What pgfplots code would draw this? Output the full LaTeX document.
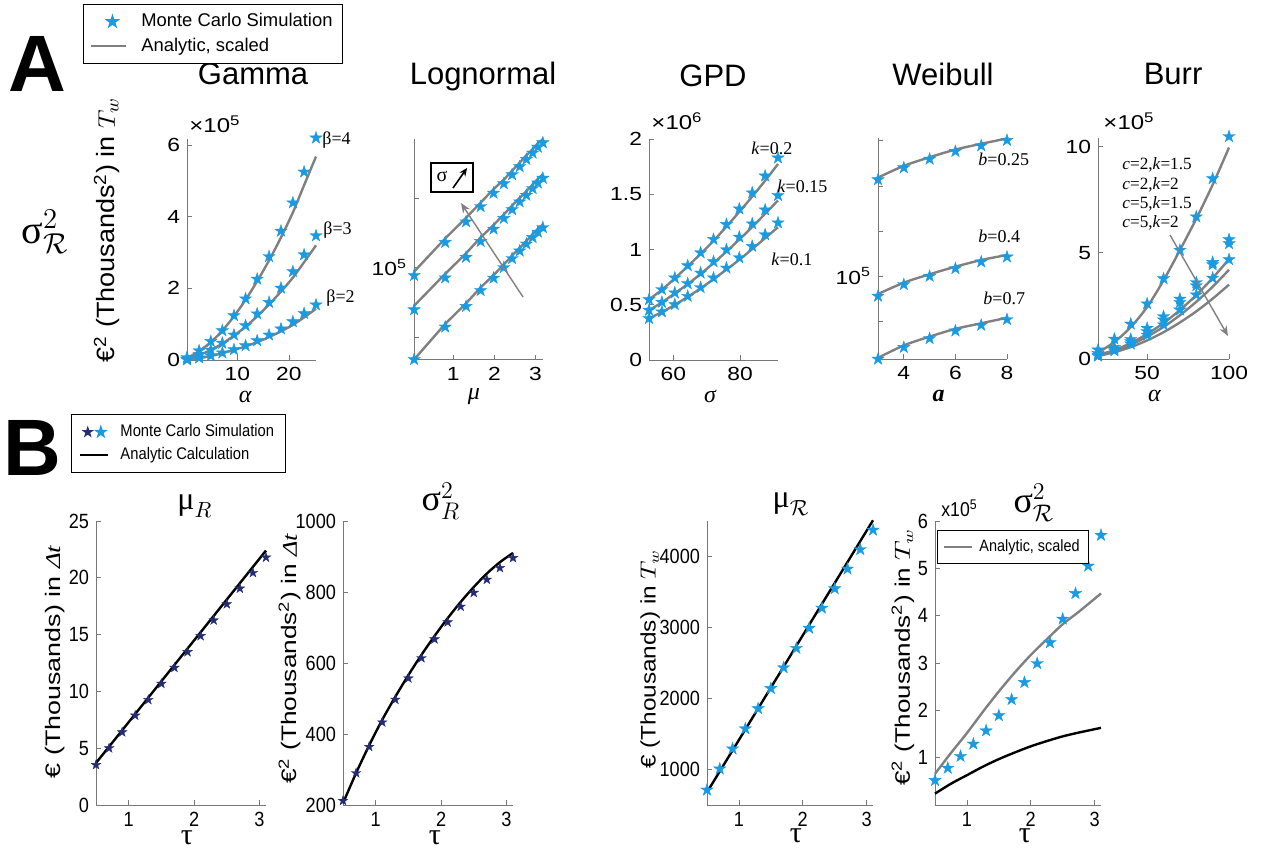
\documentclass[border=0pt]{standalone}
\usepackage{fontspec}
\setmainfont{Liberation Sans}
\newfontfamily\serif{Liberation Serif}
\newfontfamily\narrow[FakeStretch=0.88]{Liberation Sans}
\newfontfamily\wide[FakeStretch=1.2]{Liberation Sans}
\usepackage{graphicx}
\usepackage{pgfplots}
\usepackage{pgfplotstable}
\pgfplotsset{compat=1.18}
\usetikzlibrary{arrows.meta}
\definecolor{lblue}{RGB}{26,155,225}
\definecolor{navy}{RGB}{35,45,115}
\definecolor{lgray}{RGB}{128,128,128}
\definecolor{axgray}{RGB}{120,120,120}

\pgfdeclareplotmark{pstar}{%
 \pgfpathmoveto{\pgfpointpolar{90}{\pgfplotmarksize}}%
 \pgfpathlineto{\pgfpointpolar{126}{0.382\pgfplotmarksize}}%
 \pgfpathlineto{\pgfpointpolar{162}{\pgfplotmarksize}}%
 \pgfpathlineto{\pgfpointpolar{198}{0.382\pgfplotmarksize}}%
 \pgfpathlineto{\pgfpointpolar{234}{\pgfplotmarksize}}%
 \pgfpathlineto{\pgfpointpolar{270}{0.382\pgfplotmarksize}}%
 \pgfpathlineto{\pgfpointpolar{306}{\pgfplotmarksize}}%
 \pgfpathlineto{\pgfpointpolar{342}{0.382\pgfplotmarksize}}%
 \pgfpathlineto{\pgfpointpolar{18}{\pgfplotmarksize}}%
 \pgfpathlineto{\pgfpointpolar{54}{0.382\pgfplotmarksize}}%
 \pgfpathclose
 \pgfusepathqfillstroke}

\pgfplotsset{
 myb/.style={scale only axis, axis lines=left, axis line style={-, draw=axgray, line width=0.5pt},
   tick align=inside, tick style={draw=axgray, line width=0.4pt}, major tick length=2.5pt,
   enlargelimits=false, clip=false, /pgf/number format/assume math mode=true,
   /pgf/number format/1000 sep={}, scaled ticks=false, minor tick num=0,
   title style={anchor=center}, xlabel style={anchor=center}, ylabel style={anchor=center}},
 topax/.style={myb, width=64.5pt, height=110.5pt,
   tick label style={font=\wide\fontsize{9.5}{11}\selectfont},
   title style={font=\fontsize{15.5}{17}\selectfont},
   xlabel style={font=\fontsize{12}{14}\selectfont}},
 botax/.style={myb, height=142pt, xmin=0.5, xmax=3.1, xtick={1,2,3},
   tick label style={font=\narrow\fontsize{10.3}{12}\selectfont},
   xlabel style={font=\serif\fontsize{15}{16}\selectfont},
   ylabel style={font=\fontsize{10.5}{12}\selectfont}},
 mc/.style={only marks, mark=pstar, mark size=3.2pt, mark options={fill=lblue, draw=lblue, line width=0.2pt}},
 mcn/.style={only marks, mark=pstar, mark size=2.5pt, mark options={fill=navy, draw=navy, line width=0.2pt}},
 an/.style={no marks, draw=lgray, line width=1.2pt},
 anb/.style={no marks, draw=black, line width=1.2pt},
 shortleg/.style={legend image code/.code={\draw[##1] (0cm,0cm) -- (0.5cm,0cm);}},
 longleg/.style={legend image code/.code={\draw[##1] (0cm,0cm) -- (0.62cm,0cm);}},
 starleg/.style={legend image code/.code={%
  \path[draw=none, fill=none] (0cm,0cm) -- (0.62cm,0cm);
  \path[draw=none, fill=none] plot[only marks, mark=pstar, mark size=3.1pt, mark options={fill=lblue,draw=lblue}] coordinates {(0.38cm,0cm)};}},
 twostar/.style={legend image code/.code={%
  \path[draw=none, fill=none] (0cm,0cm) -- (0.5cm,0cm);
  \path[draw=none, fill=none] plot[only marks, mark=pstar, mark size=2.3pt, mark options={fill=navy,draw=navy}] coordinates {(0.14cm,0cm)};
  \path[draw=none, fill=none] plot[only marks, mark=pstar, mark size=2.8pt, mark options={fill=lblue,draw=lblue}] coordinates {(0.37cm,0cm)};}},
}

\pgfplotstableread{
x s4 l4 s3 l3 s2 l2
0.25 0.07e5 0.05e5 0.03e5 0.03e5 0.005e5 0.005e5
2.6 0.26e5 0.25e5 0.15e5 0.14e5 0.06e5 0.05e5
4.87 0.52e5 0.50e5 0.28e5 0.28e5 0.12e5 0.11e5
7.1 0.82e5 0.82e5 0.47e5 0.46e5 0.20e5 0.19e5
9.35 1.24e5 1.22e5 0.70e5 0.68e5 0.29e5 0.28e5
11.6 1.71e5 1.68e5 0.96e5 0.93e5 0.40e5 0.38e5
13.85 2.26e5 2.20e5 1.29e5 1.22e5 0.54e5 0.50e5
16.15 2.89e5 2.78e5 1.61e5 1.55e5 0.70e5 0.64e5
18.46 3.60e5 3.42e5 2.01e5 1.91e5 0.87e5 0.80e5
20.77 4.39e5 4.12e5 2.47e5 2.30e5 1.07e5 0.98e5
22.94 5.25e5 4.88e5 2.94e5 2.73e5 1.30e5 1.19e5
25.25 6.20e5 5.68e5 3.47e5 3.20e5 1.54e5 1.43e5
}\tgam

\pgfplotstableread{
x t lt m lm b lb
0.053 9.24e4 9.6e4 6.57e4 6.83e4 4.0e4 4.0e4
0.807 1.285e5 1.336e5 9.03e4 9.39e4 5.53e4 5.7e4
1.313 1.578e5 1.641e5 1.108e5 1.152e5 6.79e4 7.0e4
1.667 1.837e5 1.91e5 1.298e5 1.35e5 7.96e4 8.2e4
1.98 2.099e5 2.183e5 1.468e5 1.527e5 9.0e4 9.27e4
2.229 2.307e5 2.4e5 1.632e5 1.697e5 1.0e5 1.03e5
2.43 2.523e5 2.624e5 1.782e5 1.853e5 1.094e5 1.127e5
2.614 2.733e5 2.842e5 1.925e5 2.002e5 1.18e5 1.215e5
2.776 2.94e5 3.058e5 2.056e5 2.138e5 1.265e5 1.303e5
2.928 3.13e5 3.255e5 2.198e5 2.286e5 1.35e5 1.39e5
3.055 3.32e5 3.453e5 2.325e5 2.418e5 1.425e5 1.468e5
3.176 3.47e5 3.59e5 2.436e5 2.533e5 1.49e5 1.535e5
}\tlog

\pgfplotstableread{
x s2 l2 s15 l15 s1 l1
52.7 0.547e6 0.547e6 0.451e6 0.451e6 0.376e6 0.376e6
56.57 0.638e6 0.636e6 0.523e6 0.521e6 0.436e6 0.434e6
60.44 0.743e6 0.739e6 0.608e6 0.604e6 0.502e6 0.499e6
64.31 0.854e6 0.848e6 0.692e6 0.686e6 0.577e6 0.572e6
68.18 0.971e6 0.961e6 0.788e6 0.779e6 0.656e6 0.648e6
72.05 1.092e6 1.078e6 0.89e6 0.877e6 0.743e6 0.732e6
75.92 1.227e6 1.207e6 0.998e6 0.981e6 0.833e6 0.818e6
79.79 1.368e6 1.341e6 1.113e6 1.09e6 0.926e6 0.907e6
83.66 1.513e6 1.479e6 1.233e6 1.204e6 1.029e6 1.004e6
87.53 1.666e6 1.623e6 1.359e6 1.323e6 1.134e6 1.103e6
91.4 1.829e6 1.774e6 1.489e6 1.444e6 1.242e6 1.202e6
}\tgpd

\pgfplotstableread{
x s25 l25 s4 l4 s7 l7
3 4.41e5 4.55e5 7.36e4 7.6e4 2.80e4 2.85e4
4 5.30e5 5.45e5 8.8e4 9.05e4 3.35e4 3.45e4
5 6.05e5 6.22e5 1.0e5 1.03e5 3.84e4 3.95e4
6 6.81e5 7.0e5 1.125e5 1.157e5 4.32e4 4.45e4
7 7.43e5 7.65e5 1.246e5 1.282e5 4.71e4 4.85e4
8 8.07e5 8.3e5 1.345e5 1.385e5 5.14e4 5.28e4
}\twei

\pgfplotstableread{
x s1 s2 s3 s4 l1 l2 l3 l4
20 0.43e5 0.27e5 0.19e5 0.14e5 0.30e5 0.19e5 0.17e5 0.14e5
30 0.94e5 0.55e5 0.46e5 0.39e5 0.80e5 0.42e5 0.38e5 0.32e5
40 1.65e5 0.93e5 0.82e5 0.71e5 1.50e5 0.75e5 0.67e5 0.56e5
50 2.60e5 1.45e5 1.29e5 1.13e5 2.45e5 1.18e5 1.05e5 0.875e5
60 3.78e5 2.00e5 1.84e5 1.61e5 3.70e5 1.69e5 1.51e5 1.26e5
70 5.12e5 2.82e5 2.66e5 2.31e5 5.12e5 2.30e5 2.06e5 1.72e5
80 6.69e5 3.60e5 3.45e5 3.02e5 6.60e5 3.01e5 2.69e5 2.24e5
90 8.49e5 4.55e5 4.44e5 3.81e5 8.20e5 3.81e5 3.40e5 2.84e5
100 10.47e5 5.62e5 5.43e5 4.68e5 9.95e5 4.70e5 4.20e5 3.50e5
}\tburr

\pgfplotstableread{
x m1 v1 l2 m3 v4
0.5 3.53 212 205 712 0.52e5
0.7 5.00 290 290 1009 0.78e5
0.9 6.41 364 368 1292 1.03e5
1.1 7.88 433 440 1575 1.29e5
1.3 9.26 497 505 1858 1.57e5
1.5 10.68 557 566 2142 1.89e5
1.7 12.09 614 623 2434 2.23e5
1.9 13.47 667 676 2708 2.59e5
2.1 14.88 715 726 2991 2.99e5
2.3 16.26 759 772 3274 3.43e5
2.5 17.68 798 814 3547 3.93e5
2.7 19.06 835 852 3825 4.47e5
2.9 20.44 868 884 4099 5.05e5
3.1 21.79 896 910 4373 5.70e5
}\tbot

\pgfplotstableread{
x g k
0.5 0.66e5 0.24e5
0.75 1.10e5 0.45e5
1.0 1.52e5 0.63e5
1.25 1.97e5 0.81e5
1.5 2.40e5 0.97e5
1.75 2.80e5 1.11e5
2.0 3.17e5 1.24e5
2.25 3.50e5 1.35e5
2.5 3.82e5 1.45e5
2.75 4.08e5 1.53e5
3.1 4.47e5 1.63e5
}\tbfour

\begin{document}
\begin{tikzpicture}
\useasboundingbox (0pt,0pt) rectangle (636.5pt,-425pt);

% ---------------- Gamma
\begin{axis}[topax, at={(93.5pt,-180pt)}, anchor=south west,
 xmin=0.25, xmax=25.25, ymin=0, ymax=6.17e5,
 xtick={10,20}, ytick={0,2e5,4e5,6e5}, scaled y ticks=base 10:-5, ytick scale label code/.code={},
 title={Gamma}, title style={at={(axis description cs:0.512,1.239)}},
 xlabel={\serif\itshape α}, xlabel style={at={(axis description cs:0.45,-0.167)}},
 ylabel={\scalebox{1.08}[1]{€\textsuperscript{2} (Thousands\textsuperscript{2}) in $T_w$}},
 ylabel style={at={(axis description cs:-0.62,0.588)}, font=\fontsize{12.5}{14}\selectfont},
 reverse legend, legend cell align=left,
 legend style={at={(axis description cs:-0.806,1.611)}, anchor=north west, draw=black, line width=0.6pt,
   font=\fontsize{9.2}{11}\selectfont, inner xsep=3pt, inner ysep=2.5pt, row sep=0pt,
   /tikz/every odd column/.append style={column sep=5pt}}]
\addplot[an, smooth, forget plot] table[x=x,y=l3]{\tgam};
\addplot[an, smooth, forget plot] table[x=x,y=l2]{\tgam};
\addplot[an, smooth, longleg] table[x=x,y=l4]{\tgam}; \addlegendentry{Analytic, scaled}
\addplot[mc, starleg] table[x=x,y=s4]{\tgam}; \addlegendentry{Monte Carlo Simulation}
\addplot[mc, forget plot] table[x=x,y=s3]{\tgam};
\addplot[mc, forget plot] table[x=x,y=s2]{\tgam};
\end{axis}

% ---------------- Lognormal
\begin{axis}[topax, at={(207pt,-180pt)}, anchor=south west,
 xmin=0.05, xmax=3.18, ymode=log, ymin=3.98e4, ymax=3.6e5,
 xtick={1,2,3}, ytick={5e4,1e5,2e5}, yticklabels={,10\textsuperscript{5},},
 title={Lognormal}, title style={at={(axis description cs:0.535,1.23)}},
 xlabel={\serif\itshape μ}, xlabel style={at={(axis description cs:0.465,-0.167)}}]
\addplot[an] table[x=x,y=lt]{\tlog};
\addplot[an] table[x=x,y=lm]{\tlog};
\addplot[an] table[x=x,y=lb]{\tlog};
\addplot[mc] table[x=x,y=t]{\tlog};
\addplot[mc] table[x=x,y=m]{\tlog};
\addplot[mc] table[x=x,y=b]{\tlog};
\end{axis}

% ---------------- GPD
\begin{axis}[topax, at={(324.5pt,-180pt)}, anchor=south west,
 xmin=52.7, xmax=91.4, ymin=0, ymax=2e6,
 xtick={60,80}, ytick={0,0.5e6,1e6,1.5e6,2e6}, scaled y ticks=base 10:-6, ytick scale label code/.code={},
 title={GPD}, title style={at={(axis description cs:0.496,1.23)}},
 xlabel={\serif\itshape σ}, xlabel style={at={(axis description cs:0.473,-0.167)}}]
\addplot[an, smooth] table[x=x,y=l2]{\tgpd};
\addplot[an, smooth] table[x=x,y=l15]{\tgpd};
\addplot[an, smooth] table[x=x,y=l1]{\tgpd};
\addplot[mc] table[x=x,y=s2]{\tgpd};
\addplot[mc] table[x=x,y=s15]{\tgpd};
\addplot[mc] table[x=x,y=s1]{\tgpd};
\end{axis}

% ---------------- Weibull
\begin{axis}[topax, at={(439pt,-179.75pt)}, anchor=south west,
 xmin=3, xmax=8, ymode=log, ymin=2.78e4, ymax=8.3e5,
 xtick={4,6,8}, ytick={5e4,1e5,2e5,4e5,8e5}, yticklabels={,10\textsuperscript{5},,,},
 title={Weibull}, title style={at={(axis description cs:0.504,1.236)}},
 xlabel={\serif\bfseries\itshape a}, xlabel style={at={(axis description cs:0.47,-0.167)}}]
\addplot[an, smooth] table[x=x,y=l25]{\twei};
\addplot[an, smooth] table[x=x,y=l4]{\twei};
\addplot[an, smooth] table[x=x,y=l7]{\twei};
\addplot[mc] table[x=x,y=s25]{\twei};
\addplot[mc] table[x=x,y=s4]{\twei};
\addplot[mc] table[x=x,y=s7]{\twei};
\end{axis}

% ---------------- Burr
\begin{axis}[topax, width=65.5pt, at={(549pt,-179.5pt)}, anchor=south west,
 xmin=20, xmax=100, ymin=0, ymax=10.4e5,
 xtick={50,100}, ytick={0,5e5,10e5}, scaled y ticks=base 10:-5, ytick scale label code/.code={},
 title={Burr}, title style={at={(axis description cs:0.573,1.236)}},
 xlabel={\serif\itshape α}, xlabel style={at={(axis description cs:0.43,-0.167)}}]
\addplot[an, smooth] table[x=x,y=l1]{\tburr};
\addplot[an, smooth] table[x=x,y=l2]{\tburr};
\addplot[an, smooth] table[x=x,y=l3]{\tburr};
\addplot[an, smooth] table[x=x,y=l4]{\tburr};
\addplot[mc] table[x=x,y=s1]{\tburr};
\addplot[mc] table[x=x,y=s2]{\tburr};
\addplot[mc] table[x=x,y=s3]{\tburr};
\addplot[mc] table[x=x,y=s4]{\tburr};
\end{axis}

% ---------------- B1
\begin{axis}[botax, width=85pt, at={(48pt,-402.5pt)}, anchor=south west,
 ymin=0, ymax=25, ytick={0,5,10,15,20,25},
 title={$\mbox{\serif μ}_{R}$}, title style={at={(axis description cs:0.582,1.01)}, font=\fontsize{16}{18}\selectfont},
 xlabel={τ}, xlabel style={at={(axis description cs:0.535,-0.115)}},
 ylabel={\scalebox{1.28}[1]{€ (Thousands) in {\serif\itshape Δt}}}, ylabel style={at={(axis description cs:-0.241,0.504)}},
 reverse legend, legend cell align=left,
 legend style={at={(axis description cs:-0.147,1.377)}, anchor=north west, draw=black, line width=0.6pt,
   font=\narrow\fontsize{8.4}{11}\selectfont, inner xsep=3.5pt, inner ysep=3pt, row sep=0pt,
   /tikz/every odd column/.append style={column sep=3.5pt}}]
\addplot[anb, shortleg] coordinates {(0.5,3.7) (3.1,22.4)};
\addlegendentry{Analytic Calculation}
\addplot[mcn, twostar] table[x=x,y=m1]{\tbot};
\addlegendentry{Monte Carlo Simulation}
\end{axis}

% ---------------- B2
\begin{axis}[botax, width=85pt, at={(171.5pt,-402.5pt)}, anchor=south west,
 ymin=200, ymax=1000, ytick={200,400,600,800,1000},
 title={$\mbox{\serif σ}^{2}_{R}$}, title style={at={(axis description cs:0.576,1.028)}, font=\fontsize{18}{20}\selectfont},
 xlabel={τ}, xlabel style={at={(axis description cs:0.541,-0.115)}},
 ylabel={\scalebox{1.25}[1]{€\textsuperscript{2} (Thousands\textsuperscript{2}) in {\serif\itshape Δt}}}, ylabel style={at={(axis description cs:-0.312,0.514)}}]
\addplot[anb, smooth] table[x=x,y=l2]{\tbot};
\addplot[mcn] table[x=x,y=v1]{\tbot};
\end{axis}

% ---------------- B3
\begin{axis}[botax, width=83pt, at={(353.5pt,-402.5pt)}, anchor=south west,
 ymin=500, ymax=4500, ytick={1000,2000,3000,4000},
 title={$\mbox{\serif μ}_{\mathcal{R}}$}, title style={at={(axis description cs:0.506,1.017)}, font=\fontsize{16}{18}\selectfont},
 xlabel={τ}, xlabel style={at={(axis description cs:0.536,-0.11)}},
 ylabel={\scalebox{1.16}[1]{€ (Thousands) in $T_w$}}, ylabel style={at={(axis description cs:-0.343,0.514)}}]
\addplot[anb] coordinates {(0.5,680) (3.1,4510)};
\addplot[mc] table[x=x,y=m3]{\tbot};
\end{axis}

% ---------------- B4
\begin{axis}[botax, width=83pt, at={(467.5pt,-402.5pt)}, anchor=south west,
 ymin=0, ymax=6e5, ytick={1e5,2e5,3e5,4e5,5e5,6e5}, scaled y ticks=base 10:-5, ytick scale label code/.code={},
 title={$\mbox{\serif σ}^{2}_{\mathcal{R}}$}, title style={at={(axis description cs:0.596,1.022)}, font=\fontsize{18}{20}\selectfont},
 xlabel={τ}, xlabel style={at={(axis description cs:0.542,-0.11)}},
 ylabel={\scalebox{1.24}[1]{€\textsuperscript{2} (Thousands\textsuperscript{2}) in $T_w$}}, ylabel style={at={(axis description cs:-0.193,0.521)}},
 legend cell align=left,
 legend style={at={(axis description cs:0.012,0.968)}, anchor=north west, draw=black, line width=0.6pt,
   font=\narrow\fontsize{8.2}{10}\selectfont, inner xsep=2.5pt, inner ysep=2.5pt,
   /tikz/every odd column/.append style={column sep=1pt}}]
\addplot[anb, smooth, forget plot] table[x=x,y=k]{\tbfour};
\addplot[an, smooth, shortleg] table[x=x,y=g]{\tbfour};
\addlegendentry{Analytic, scaled}
\addplot[mc, forget plot] table[x=x,y=v4]{\tbot};
\end{axis}

% ---------------- annotations (pixel coordinates)
\begin{scope}[x=0.5pt,y=-0.5pt]
\node[font=\bfseries\fontsize{40}{40}\selectfont] at (37,64) {A};
\node[font=\bfseries\fontsize{40}{40}\selectfont] at (32,448) {B};
\node[font=\fontsize{20}{22}\selectfont] at (45,232) {$\mbox{\serif σ}^{2}_{\mathcal{R}}$};

\node[font=\wide\fontsize{10}{11}\selectfont] at (215,124) {×10\textsuperscript{5}};
\node[font=\wide\fontsize{10}{11}\selectfont] at (677,121) {×10\textsuperscript{6}};
\node[font=\wide\fontsize{10}{11}\selectfont] at (1129,121) {×10\textsuperscript{5}};
\node[font=\narrow\fontsize{10}{11}\selectfont, anchor=west, inner sep=0pt] at (941,508) {x10\textsuperscript{5}};

\begin{scope}[font=\serif\fontsize{9}{10}\selectfont]
\node[anchor=west, inner sep=0pt] at (322,140) {β=4};
\node[anchor=west, inner sep=0pt] at (323,230) {β=3};
\node[anchor=west, inner sep=0pt] at (326,298) {β=2};
\node[anchor=west, inner sep=0pt] at (751,148) {\textit{k}=0.2};
\node[anchor=west, inner sep=0pt] at (777,186) {\textit{k}=0.15};
\node[anchor=west, inner sep=0pt] at (771,259) {\textit{k}=0.1};
\node[anchor=west, inner sep=0pt] at (978,159) {\textit{b}=0.25};
\node[anchor=west, inner sep=0pt] at (978,236) {\textit{b}=0.4};
\node[anchor=west, inner sep=0pt] at (983,298) {\textit{b}=0.7};
\end{scope}
\begin{scope}[font=\serif\fontsize{8.6}{10}\selectfont]
\node[anchor=west, inner sep=0pt] at (1122,165) {\textit{c}=2,\textit{k}=1.5};
\node[anchor=west, inner sep=0pt] at (1122,185) {\textit{c}=2,\textit{k}=2};
\node[anchor=west, inner sep=0pt] at (1122,204) {\textit{c}=5,\textit{k}=1.5};
\node[anchor=west, inner sep=0pt] at (1122,223) {\textit{c}=5,\textit{k}=2};
\end{scope}

\draw[lgray, line width=0.7pt, -{Stealth[length=5pt,width=4pt]}] (523,297) -- (461,203);
\draw[lgray, line width=0.7pt, -{Stealth[length=5pt,width=4pt]}] (1170,235) -- (1228,336);
\draw[black, line width=0.6pt] (431,163) rectangle (473,192);
\node[font=\serif\fontsize{10}{12}\selectfont] at (442,176) {σ};
\draw[black, line width=0.8pt, -{Stealth[length=4pt,width=3.5pt]}] (453,188) -- (467,168);
\end{scope}
\end{tikzpicture}
\end{document}
